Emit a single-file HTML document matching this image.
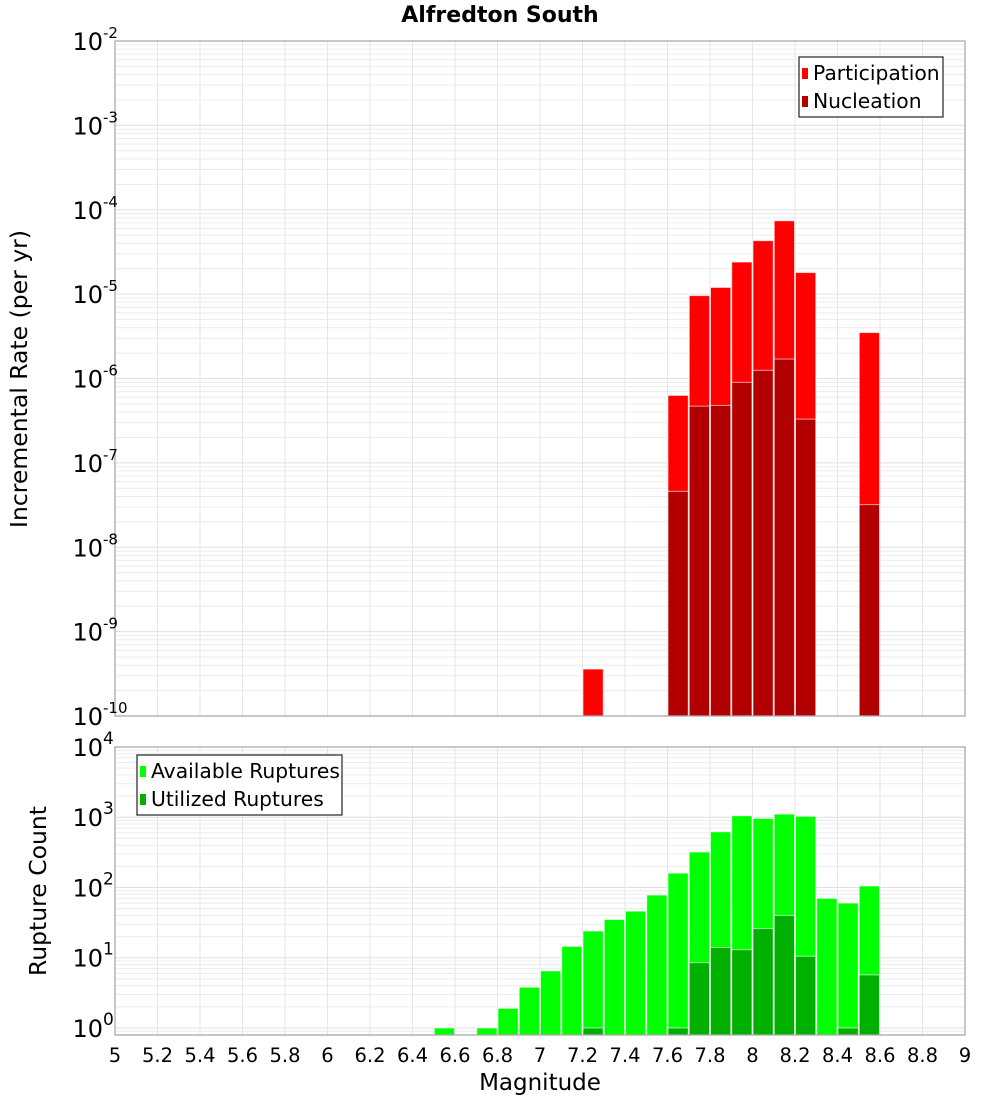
<!DOCTYPE html>
<html><head><meta charset="utf-8"><style>
body{margin:0;background:#fff;}
svg{display:block;font-family:"DejaVu Sans","Liberation Sans",sans-serif;}
</style></head><body>
<svg id="chart" width="1000" height="1100" viewBox="0 0 1000 1100" xmlns="http://www.w3.org/2000/svg">
<text x="500" y="22" text-anchor="middle" font-size="22" font-weight="bold">Alfredton South</text>
<g id="top"></g><g id="bot"></g>
<text transform="translate(27,379) rotate(-90)" text-anchor="middle" font-size="23.5">Incremental Rate (per yr)</text>
<text transform="translate(46,891) rotate(-90)" text-anchor="middle" font-size="23.5">Rupture Count</text>
<text x="540" y="1090" text-anchor="middle" font-size="23">Magnitude</text>
</svg>
<script>
const rateMags=[7.25,7.65,7.75,7.85,7.95,8.05,8.15,8.25,8.55];
const participation=[3.6e-10,6.3e-7,9.6e-6,1.2e-5,2.4e-5,4.3e-5,7.4e-5,1.8e-5,3.5e-6];
const nucleation=[0,4.6e-8,4.7e-7,4.8e-7,9.0e-7,1.25e-6,1.7e-6,3.3e-7,3.2e-8];
const countMags=[6.55,6.75,6.85,6.95,7.05,7.15,7.25,7.35,7.45,7.55,7.65,7.75,7.85,7.95,8.05,8.15,8.25,8.35,8.45,8.55];
const available=[1,1,1.9,3.8,6.5,14.5,24,35,46,78,160,320,620,1050,960,1110,1030,70,60,105];
const utilized=[0,0,0,0,0,0,1,0,0,0,1,8.5,14,13,26,40,10.5,0,1,5.7];
const xTicks=[5,5.2,5.4,5.6,5.8,6,6.2,6.4,6.6,6.8,7,7.2,7.4,7.6,7.8,8,8.2,8.4,8.6,8.8,9];
const topDecades=[-2,-3,-4,-5,-6,-7,-8,-9,-10];
const botDecades=[4,3,2,1,0];

const NS="http://www.w3.org/2000/svg";
const X0=115,X1=965;
const xs=m=>X0+(m-5)/4*(X1-X0);
function mk(p,tag,at){const e=document.createElementNS(NS,tag);for(const k in at)e.setAttribute(k,at[k]);p.appendChild(e);return e;}
function panel(g,y0,y1,dTop,dBot,name){
  const ys=v=>y0+(dTop-Math.log10(v))/(dTop-dBot)*(y1-y0);
  mk(g,'rect',{x:X0,y:y0,width:X1-X0,height:y1-y0,fill:'#fff'});
  for(let d=Math.floor(dBot);d<dTop;d++)for(let k=1;k<10;k++){const y=ys(k*Math.pow(10,d));if(y<y0||y>y1)continue;
    mk(g,'line',{x1:X0,x2:X1,y1:y,y2:y,stroke:k==1?'#e0e0e0':'#ececec','stroke-width':1});}
  xTicks.forEach(t=>{const x=xs(t);mk(g,'line',{x1:x,x2:x,y1:y0,y2:y1,stroke:'#e6e6e6','stroke-width':1});});
  return ys;
}
function bars(g,ys,mags,vals,fill,name,yb){
  mags.forEach((m,i)=>{if(!(vals[i]>0))return;const xl=xs(m-0.05),xr=xs(m+0.05),y=ys(vals[i]);
    const r=mk(g,'rect',{x:xl+0.5,y:y,width:xr-xl-1,height:yb-y,fill:fill,stroke:'#fff','stroke-opacity':0.6,'stroke-width':1});
    
    });
}
function ylabels(g,ys,decs,name,ss){
  decs.forEach(d=>{const y=ys(Math.pow(10,d));
    const t=mk(g,'text',{x:103,y:y+9,'text-anchor':'end','font-size':24});t.textContent='10';
    
    
    const s=mk(g,'text',{x:103,y:y-3,'font-size':ss});s.textContent=String(d);
    
    });
}
function legend(g,x,y,w,items){
  mk(g,'rect',{x:x,y:y,width:w,height:60,fill:'#fff',stroke:'#333','stroke-width':1.3});
  items.forEach((it,i)=>{const cy=y+16+i*28;
    mk(g,'rect',{x:x+3,y:cy-5,width:6,height:11,fill:it[1]});
    const t=mk(g,'text',{x:x+14,y:cy+7,'font-size':20.3});t.textContent=it[0];
    
    });
}
const gt=document.getElementById('top');
const ysT=panel(gt,41,716,-2,-10,'rate');
bars(gt,ysT,rateMags,participation,'#ff0000','participation',716);
bars(gt,ysT,rateMags,nucleation,'#b20000','nucleation',716);
mk(gt,'rect',{x:X0,y:41,width:X1-X0,height:675,fill:'none',stroke:'#aaa','stroke-width':1.3});
ylabels(gt,ysT,topDecades,'rate-y',15);
legend(gt,799,57,144,[['Participation','#ff0000'],['Nucleation','#b20000']]);

const gb=document.getElementById('bot');
const ysB=panel(gb,747,1035,4,-0.1,'count');
bars(gb,ysB,countMags,available,'#00ff00','available',1035);
bars(gb,ysB,countMags,utilized,'#00b000','utilized',1035);
mk(gb,'rect',{x:X0,y:747,width:X1-X0,height:288,fill:'none',stroke:'#aaa','stroke-width':1.3});
ylabels(gb,ysB,botDecades,'count-y',17);
legend(gb,137,755,205,[['Available Ruptures','#00ff00'],['Utilized Ruptures','#00b000']]);
xTicks.forEach(t=>{const e=mk(gb,'text',{x:xs(t),y:1062,'text-anchor':'middle','font-size':19.5});
  e.textContent=String(t);
  
  });
</script>
</body></html>
